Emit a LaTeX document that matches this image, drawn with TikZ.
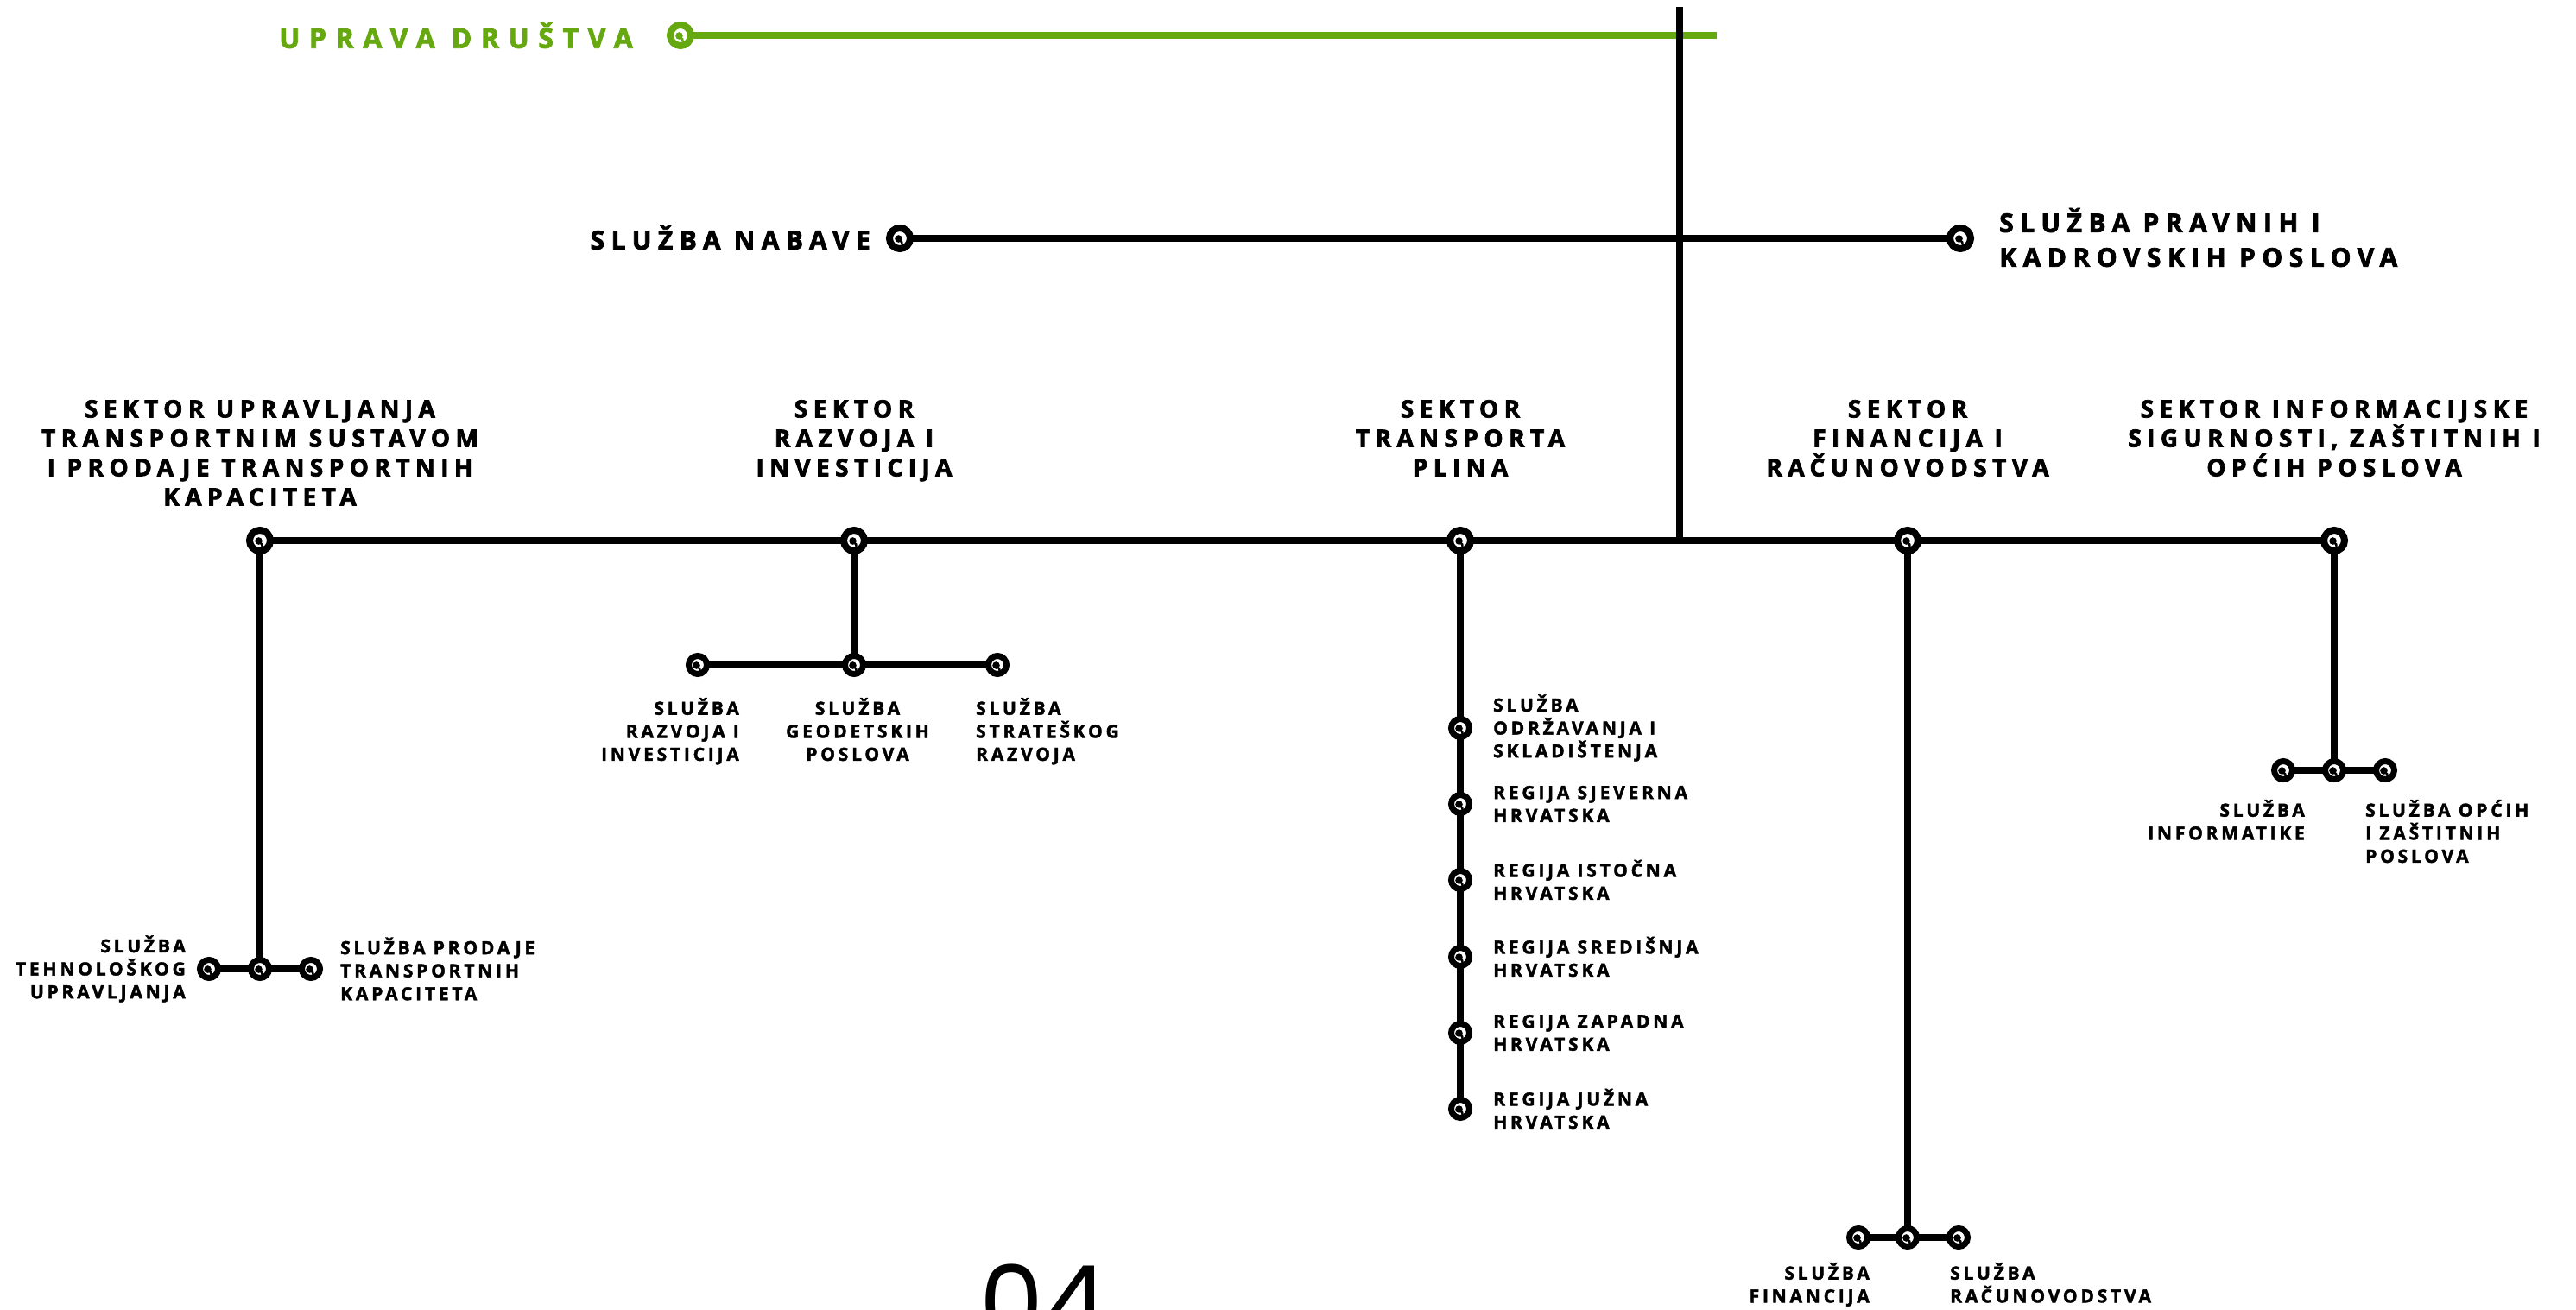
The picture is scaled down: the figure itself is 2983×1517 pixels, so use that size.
\documentclass[tikz,border=0pt]{standalone}
\usepackage{fontspec}
\newfontfamily\labf[LetterSpace=18, BoldFeatures={FakeBold=2}]{Open Sans}
\newfontfamily\secf[LetterSpace=23, BoldFeatures={FakeBold=2.5}]{Open Sans}
\newfontfamily\topf[LetterSpace=25, BoldFeatures={FakeBold=2.5}]{Open Sans}
\newfontfamily\grnf[LetterSpace=33, BoldFeatures={FakeBold=2.5}]{Open Sans}
\newfontfamily\numf{Poppins}
\definecolor{grn}{RGB}{102,168,16}
\tikzset{
  ringbase/.style={circle, fill=white, inner sep=0pt, outer sep=0pt,
    path picture={
      \fill[#1] ([shift={(-1.5pt,-0.5pt)}]path picture bounding box.center) circle (4.3pt);
      \draw[#1, line width=2.4pt, line cap=round] ([shift={(0.5pt,-3pt)}]path picture bounding box.center)
        .. controls ([shift={(2.5pt,-4pt)}]path picture bounding box.center) .. ([shift={(2.5pt,-7pt)}]path picture bounding box.center);
    }},
  bigring/.style={ringbase=black, draw=black, line width=8pt, minimum size=24pt},
  subring/.style={ringbase=black, draw=black, line width=7pt, minimum size=21pt},
  greenring/.style={ringbase=grn, draw=grn, line width=8pt, minimum size=24pt},
  conn/.style={line width=8pt, black},
  subconn/.style={line width=7.5pt, black},
  biglab/.style={font=\secf\bfseries\fontsize{28}{34}\selectfont, inner sep=0pt, align=center},
  toplab/.style={font=\topf\bfseries\fontsize{30}{40}\selectfont, inner sep=0pt},
  smalllab/.style={font=\labf\bfseries\fontsize{21}{26.6}\selectfont, inner sep=0pt},
}
\begin{document}
\begin{tikzpicture}[x=1pt, y=-1pt]
\useasboundingbox (0,0) rectangle (2983,1517);
\clip (0,0) rectangle (2983,1517);

% ---- top level
\node[greenring] (g) at (788,41) {};
\coordinate (gend) at (1988,41);
\draw[line width=8pt, grn] (g) -- (gend);
\node[font=\grnf\bfseries\fontsize{32}{40}\selectfont, inner sep=0pt, text=grn, anchor=east] (uprava) at (733,41) {UPRAVA DRUŠTVA};

\coordinate (vtop) at (1945,8);
\coordinate (vj) at (1945,626);
\draw[conn] (vtop) -- (vj);

\node[bigring] (nab) at (1042,276) {};
\node[bigring] (prav) at (2270,276) {};
\draw[conn] (nab) -- (prav);
\node[toplab, anchor=east] (nabl) at (1008,275) {SLUŽBA NABAVE};
\node[toplab, anchor=west, align=left] (pravl) at (2315,275) {SLUŽBA PRAVNIH I\\KADROVSKIH POSLOVA};

% ---- sectors
\node[bigring] (s1) at (301,626) {};
\node[bigring] (s2) at (989,626) {};
\node[bigring] (s3) at (1691,626) {};
\node[bigring] (s4) at (2209,626) {};
\node[bigring] (s5) at (2703,626) {};
\draw[conn] (s1) -- (s2) -- (s3) -- (s4) -- (s5);

\node[biglab, anchor=north] (s1l) at (301,463) {SEKTOR UPRAVLJANJA\\TRANSPORTNIM SUSTAVOM\\I PRODAJE TRANSPORTNIH\\KAPACITETA};
\node[biglab, anchor=north] (s2l) at (989,463) {SEKTOR\\RAZVOJA I\\INVESTICIJA};
\node[biglab, anchor=north] (s3l) at (1691,463) {SEKTOR\\TRANSPORTA\\PLINA};
\node[biglab, anchor=north] (s4l) at (2209,463) {SEKTOR\\FINANCIJA I\\RAČUNOVODSTVA};
\node[biglab, anchor=north] (s5l) at (2703,463) {SEKTOR INFORMACIJSKE\\SIGURNOSTI, ZAŠTITNIH I\\OPĆIH POSLOVA};

% ---- sector 1 subs
\node[subring] (a1) at (242,1122) {};
\node[subring] (a2) at (301,1122) {};
\node[subring] (a3) at (360,1122) {};
\draw[subconn] (s1) -- (a2);
\draw[subconn] (a1) -- (a2) -- (a3);
\node[smalllab, anchor=east, align=right] (a1l) at (215,1122) {SLUŽBA\\TEHNOLOŠKOG\\UPRAVLJANJA};
\node[smalllab, anchor=west, align=left] (a3l) at (394,1122) {SLUŽBA PRODAJE\\TRANSPORTNIH\\KAPACITETA};

% ---- sector 2 subs
\node[subring] (b1) at (808,770) {};
\node[subring] (b2) at (989,770) {};
\node[subring] (b3) at (1155,770) {};
\draw[subconn] (s2) -- (b2);
\draw[subconn] (b1) -- (b2) -- (b3);
\node[smalllab, anchor=north east, align=right] (b1l) at (856,808) {SLUŽBA\\RAZVOJA I\\INVESTICIJA};
\node[smalllab, anchor=north, align=center] (b2l) at (993,808) {SLUŽBA\\GEODETSKIH\\POSLOVA};
\node[smalllab, anchor=north west, align=left] (b3l) at (1130,808) {SLUŽBA\\STRATEŠKOG\\RAZVOJA};

% ---- sector 3 subs
\node[subring] (r1) at (1691,843) {};
\node[subring] (r2) at (1691,931) {};
\node[subring] (r3) at (1691,1019) {};
\node[subring] (r4) at (1691,1108) {};
\node[subring] (r5) at (1691,1196) {};
\node[subring] (r6) at (1691,1284) {};
\draw[subconn] (s3) -- (r1) -- (r2) -- (r3) -- (r4) -- (r5) -- (r6);
\node[smalllab, anchor=west, align=left] (r1l) at (1729,843) {SLUŽBA\\ODRŽAVANJA I\\SKLADIŠTENJA};
\node[smalllab, anchor=west, align=left] (r2l) at (1729,931) {REGIJA SJEVERNA\\HRVATSKA};
\node[smalllab, anchor=west, align=left] (r3l) at (1729,1019) {REGIJA ISTOČNA\\HRVATSKA};
\node[smalllab, anchor=west, align=left] (r4l) at (1729,1108) {REGIJA SREDIŠNJA\\HRVATSKA};
\node[smalllab, anchor=west, align=left] (r5l) at (1729,1196) {REGIJA ZAPADNA\\HRVATSKA};
\node[smalllab, anchor=west, align=left] (r6l) at (1729,1284) {REGIJA JUŽNA\\HRVATSKA};

% ---- sector 4 subs
\node[subring] (c1) at (2152,1433) {};
\node[subring] (c2) at (2209,1433) {};
\node[subring] (c3) at (2268,1433) {};
\draw[subconn] (s4) -- (c2);
\draw[subconn] (c1) -- (c2) -- (c3);
\node[smalllab, anchor=north east, align=right] (c1l) at (2165,1462) {SLUŽBA\\FINANCIJA};
\node[smalllab, anchor=north west, align=left] (c3l) at (2258,1462) {SLUŽBA\\RAČUNOVODSTVA};

% ---- sector 5 subs
\node[subring] (d1) at (2644,892) {};
\node[subring] (d2) at (2703,892) {};
\node[subring] (d3) at (2762,892) {};
\draw[subconn] (s5) -- (d2);
\draw[subconn] (d1) -- (d2) -- (d3);
\node[smalllab, anchor=north east, align=right] (d1l) at (2669,926) {SLUŽBA\\INFORMATIKE};
\node[smalllab, anchor=north west, align=left] (d3l) at (2739,926) {SLUŽBA OPĆIH\\I ZAŠTITNIH\\POSLOVA};

% ---- page number
\node[font=\numf\fontsize{118}{118}\selectfont, anchor=base, inner sep=0pt] (pg) at (1209,1550) {04};
\end{tikzpicture}
\end{document}
